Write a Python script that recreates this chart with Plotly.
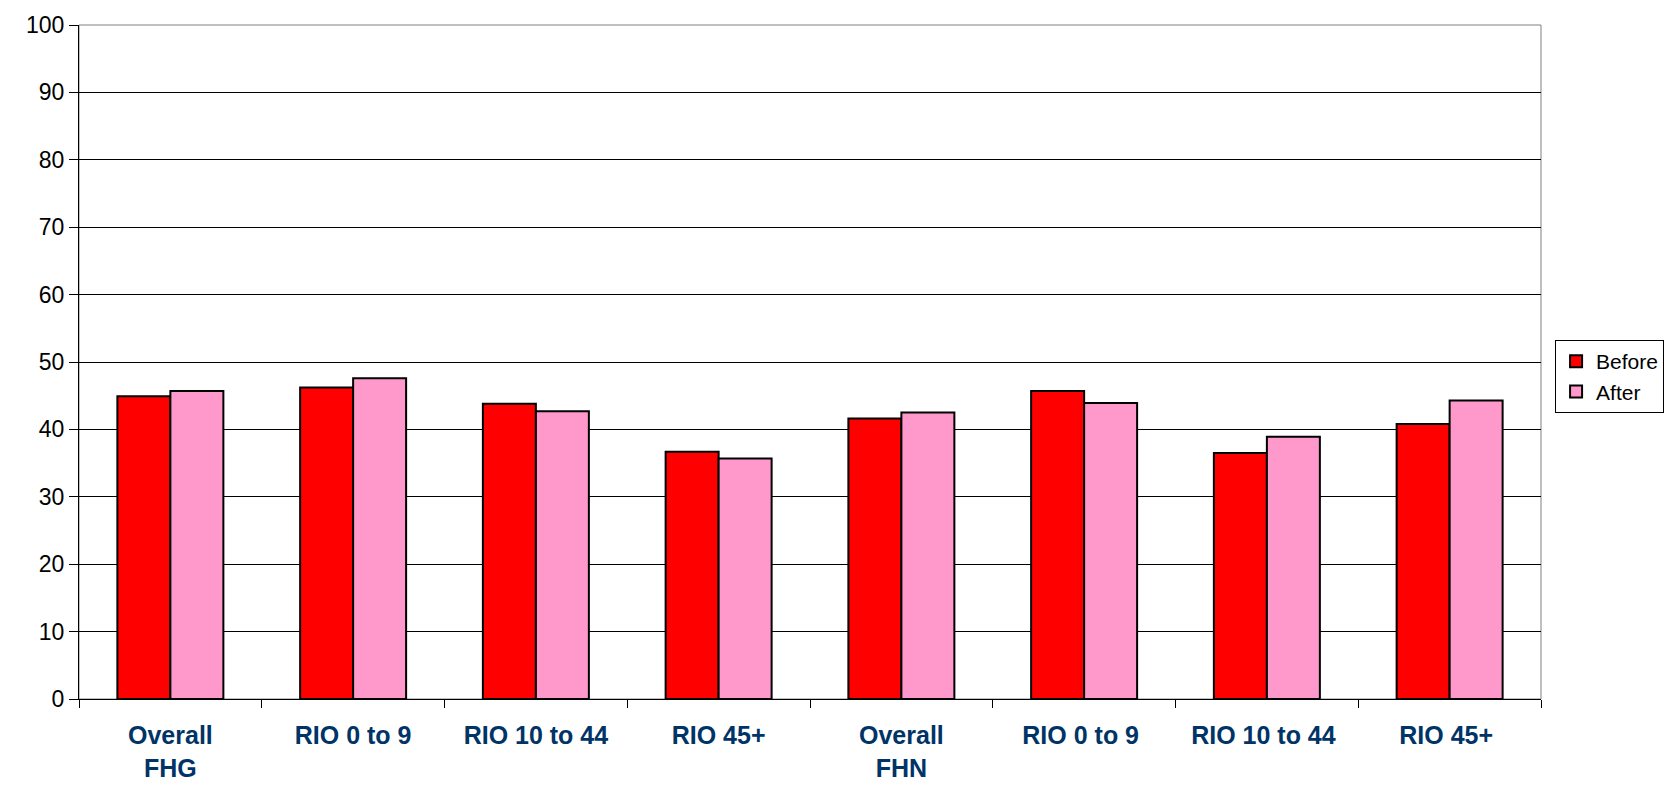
import plotly.graph_objects as go

categories = ["Overall<br>FHG", "RIO 0 to 9", "RIO 10 to 44", "RIO 45+",
              "Overall<br>FHN", "RIO 0 to 9 ", "RIO 10 to 44 ", "RIO 45+ "]
before = [44.9, 46.2, 43.8, 36.7, 41.6, 45.7, 36.5, 40.8]
after = [45.7, 47.6, 42.7, 35.7, 42.5, 43.9, 38.9, 44.3]
y_ticks = list(range(0, 101, 10))

fig = go.Figure()
fig.add_trace(go.Bar(name="Before", x=categories, y=before,
                     marker=dict(color="#FF0000", line=dict(color="#000000", width=2))))
fig.add_trace(go.Bar(name="After", x=categories, y=after,
                     marker=dict(color="#FF99CC", line=dict(color="#000000", width=2))))

fig.update_layout(
    width=1668, height=790,
    margin=dict(l=79, r=127, t=25, b=91, autoexpand=False),
    paper_bgcolor="white", plot_bgcolor="white",
    barmode="group", bargap=0.42, bargroupgap=0,
    font=dict(family="Liberation Sans, Arial, sans-serif", color="black"),
    showlegend=True,
    legend=dict(xref="container", yref="container", x=0.9323, y=0.5696,
                xanchor="left", yanchor="top",
                bordercolor="#000000", borderwidth=1, bgcolor="white",
                font=dict(size=21), tracegroupgap=10),
    shapes=[dict(type="rect", xref="paper", yref="paper", x0=0, x1=1, y0=0, y1=1,
                 line=dict(color="#808080", width=1), layer="below")],
)
fig.update_xaxes(
    type="category", tickson="boundaries", ticks="outside", ticklen=8,
    tickcolor="#000000", showline=True, linecolor="#000000", linewidth=1,
    tickfont=dict(size=25, color="#003366", weight="bold",
                  family="Liberation Sans, Arial, sans-serif"),
    ticklabelstandoff=14, automargin=False,
    showgrid=False,
)
fig.update_yaxes(
    range=[0, 100], tickvals=y_ticks, ticks="outside", ticklen=9,
    tickcolor="#000000", showline=True, linecolor="#000000", linewidth=1,
    gridcolor="#000000", gridwidth=1, zeroline=False, automargin=False,
    tickfont=dict(size=23, color="black"),
)

fig.write_html("out.html")
